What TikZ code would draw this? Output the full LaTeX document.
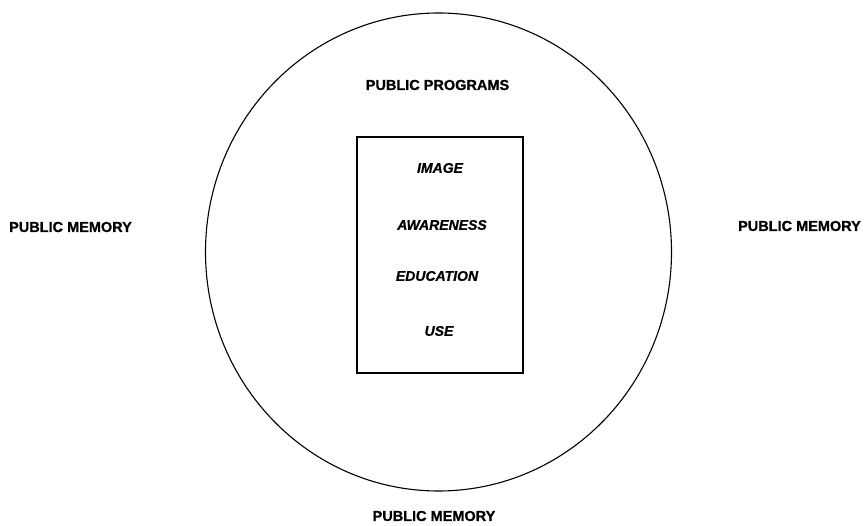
\documentclass[tikz,border=0pt]{standalone}
\usepackage{fontspec}
\setmainfont{Liberation Sans}[BoldFeatures={FakeBold=0.8},BoldItalicFeatures={FakeBold=0.8}]
\begin{document}
\begin{tikzpicture}[x=1pt,y=-1pt,
  outer/.style={font=\fontsize{14.5}{16}\selectfont\bfseries, inner sep=0pt},
  inner/.style={font=\fontsize{14}{16}\selectfont\bfseries\itshape, inner sep=0pt},
  ring/.style={draw=black, line width=1.1pt},
  panel/.style={draw=black, line width=1.4pt}]
  \useasboundingbox (0,0) rectangle (864,526);
  % outer circle of public programs
  \draw[ring] (438.5,252) ellipse [x radius=233, y radius=239];
  % inner panel
  \node[panel, minimum width=166pt, minimum height=236pt, inner sep=0pt] (box) at (440,255) {};
  \node[outer] (prog) at (437.5,85) {PUBLIC PROGRAMS};
  \node[outer] (memL) at (70.5,227) {PUBLIC MEMORY};
  \node[outer] (memR) at (799.5,226) {PUBLIC MEMORY};
  \node[outer] (memB) at (434,516) {PUBLIC MEMORY};
  \node[inner] (image) at (440,168) {IMAGE};
  \node[inner] (aware) at (442,225) {AWARENESS};
  \node[inner] (edu) at (437,276) {EDUCATION};
  \node[inner] (use) at (439,331) {USE};
\end{tikzpicture}
\end{document}
